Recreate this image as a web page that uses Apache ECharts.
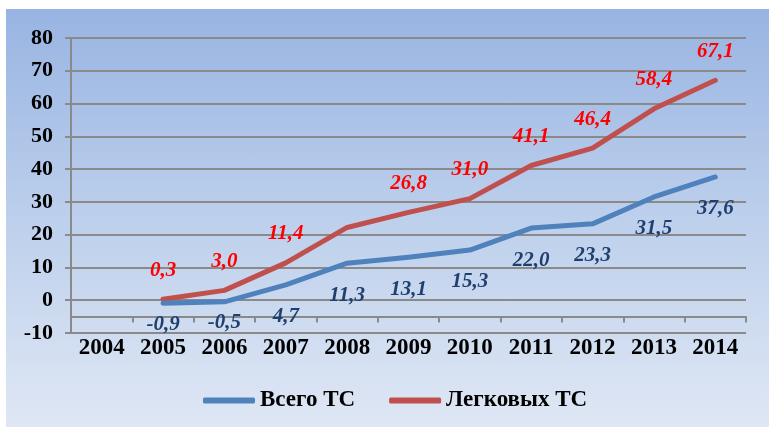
<!DOCTYPE html>
<html>
<head>
<meta charset="utf-8">
<script src="https://cdn.jsdelivr.net/npm/echarts@6/dist/echarts.min.js"></script>
<style>
  html, body { margin: 0; padding: 0; background: #fff; }
  #wrap { position: relative; width: 769px; height: 427px; }
  #bg { position: absolute; left: 6px; top: 9px; right: 0; bottom: 0;
        background: linear-gradient(to bottom, #98b4e2 0%, #b9cdeb 45%, #dfe7f4 100%); }
  #chart { position: absolute; left: 0; top: 0; width: 769px; height: 427px; }
</style>
</head>
<body>
<div id="wrap">
  <div id="bg"></div>
  <div id="chart"></div>
</div>
<script>
  // годы
  var years = ['2004', '2005', '2006', '2007', '2008', '2009', '2010', '2011', '2012', '2013', '2014']
  var vsegoTS = [null, -0.9, -0.5, 4.7, 11.3, 13.1, 15.3, 22.0, 23.3, 31.5, 37.6]
  var legkovyhTS = [null, 0.3, 3.0, 11.4, 22.2, 26.8, 31.0, 41.1, 46.4, 58.4, 67.1]
  var seriesNames = ['Всего ТС', 'Легковых ТС']

  var font = '"Liberation Serif", "Times New Roman", serif'
  var chart = echarts.init(document.getElementById('chart'))

  function fmt (p) {
    return p.value == null ? '' : p.value.toFixed(1).replace('.', ',')
  }

  // первые две точки синей линии подписаны ближе к линии
  var blueData = vsegoTS.map(function (v, i) {
    if (i === 1 || i === 2) {
      return { value: v, label: { distance: 10 } }
    }
    return v
  })
  // у 2008 года на красной линии подписи нет
  var redData = legkovyhTS.map(function (v, i) {
    if (i === 4) {
      return { value: v, label: { show: false } }
    }
    return v
  })

  var options = {
    animation: false,
    textStyle: { fontFamily: font },
    grid: { left: 71, right: 23, top: 38, bottom: 94 },
    legend: {
      left: 198,
      top: 384,
      icon: 'roundRect',
      itemWidth: 52,
      itemHeight: 6,
      itemGap: 34,
      data: seriesNames,
      textStyle: { fontFamily: font, fontSize: 23, fontWeight: 'bold', color: '#000' }
    },
    xAxis: [
      {
        type: 'category',
        data: years,
        boundaryGap: true,
        axisLine: { show: false },
        axisTick: { show: false },
        axisLabel: { margin: 4, fontFamily: font, fontSize: 23, fontWeight: 'bold', color: '#000' }
      },
      {
        // линия оси категорий проходит на уровне -5
        type: 'category',
        data: years,
        position: 'bottom',
        offset: -16.5,
        boundaryGap: true,
        axisLine: { show: true, onZero: false, lineStyle: { color: '#8a8a8a', width: 2 } },
        axisTick: { show: true, length: 6, interval: 0, lineStyle: { color: '#8a8a8a', width: 2 } },
        axisLabel: { show: false }
      }
    ],
    yAxis: {
      type: 'value',
      min: -10,
      max: 80,
      interval: 10,
      axisLine: { show: true, lineStyle: { color: '#8a8a8a', width: 2 } },
      axisTick: { show: true, length: 6, lineStyle: { color: '#8a8a8a', width: 2 } },
      splitLine: { lineStyle: { color: '#8a8a8a', width: 2 } },
      axisLabel: { margin: 18, fontFamily: font, fontSize: 22, fontWeight: 'bold', color: '#000' }
    },
    series: [
      {
        name: seriesNames[0],
        type: 'line',
        data: blueData,
        symbol: 'circle',
        symbolSize: 1,
        itemStyle: { color: '#4f81bd' },
        lineStyle: { color: '#4f81bd', width: 5, cap: 'round', join: 'round' },
        label: {
          show: true,
          position: 'bottom',
          distance: 21,
          formatter: fmt,
          fontFamily: font,
          fontSize: 21,
          fontWeight: 'bold',
          fontStyle: 'italic',
          color: '#1f3f6e'
        },
        z: 3
      },
      {
        name: seriesNames[1],
        type: 'line',
        data: redData,
        symbol: 'circle',
        symbolSize: 1,
        itemStyle: { color: '#c0504d' },
        lineStyle: { color: '#c0504d', width: 5, cap: 'round', join: 'round' },
        label: {
          show: true,
          position: 'top',
          distance: 18,
          formatter: fmt,
          fontFamily: font,
          fontSize: 21,
          fontWeight: 'bold',
          fontStyle: 'italic',
          color: '#ff0000'
        },
        z: 2
      }
    ]
  }
  chart.setOption(options)
</script>
</body>
</html>
